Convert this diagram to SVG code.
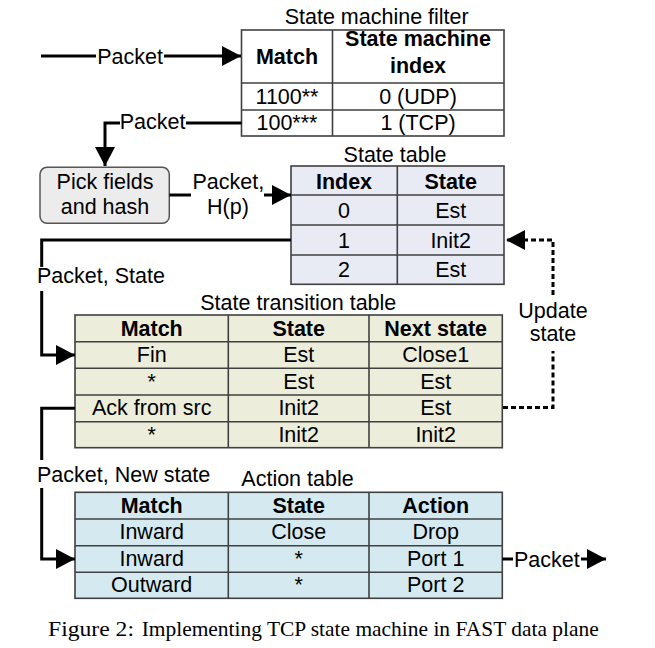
<svg xmlns="http://www.w3.org/2000/svg" width="655" height="648" viewBox="0 0 655 648">
<defs>
<style>
text{font-family:"Liberation Sans",Arial,sans-serif;font-size:21.5px;fill:#000}
.c{text-anchor:middle}
.b{font-weight:bold}
.cell{stroke:#404040;stroke-width:1.6}
.grid{stroke:#404040;stroke-width:1.6;fill:none}
.ln{fill:none;stroke:#000;stroke-width:3}
.dash{fill:none;stroke:#000;stroke-width:3;stroke-dasharray:5 3}
.cap{font-family:"Liberation Serif","Times New Roman",serif;fill:#000}
</style>
<marker id="ah" markerUnits="userSpaceOnUse" markerWidth="22" markerHeight="22" refX="19" refY="10" orient="auto">
<path d="M0,0 L19,10 L0,20 Z" fill="#000" stroke="none"/>
</marker>
</defs>
<rect width="655" height="648" fill="#fff"/>

<g id="filter">
<text class="c" x="376.7" y="24">State machine filter</text>
<rect class="cell" x="241.5" y="30" width="262.5" height="106" fill="#fff"/>
<path class="grid" d="M332.5,30V136M241.5,83H504M241.5,110H504"/>
<text class="c b" x="287" y="63.5">Match</text>
<text class="c b" x="418" y="45.5">State machine</text>
<text class="c b" x="418" y="72.5">index</text>
<text class="c" x="287" y="104">1100**</text>
<text class="c" x="418" y="104">0 (UDP)</text>
<text class="c" x="287" y="129.5">100***</text>
<text class="c" x="418" y="129.5">1 (TCP)</text>
</g>

<g id="pick">
<rect x="40" y="167.3" width="129.3" height="56" rx="7" fill="#ececec" stroke="#555" stroke-width="1.5"/>
<text class="c" x="105" y="188.5">Pick fields</text>
<text class="c" x="105" y="214">and hash</text>
</g>

<g id="statetable">
<text class="c" x="395" y="161.5">State table</text>
<rect class="cell" x="291" y="166" width="213" height="118.3" fill="#e8ebf4"/>
<path class="grid" d="M397.3,166V284.3M291,195H504M291,225H504M291,255H504"/>
<text class="c b" x="344" y="188.5">Index</text>
<text class="c b" x="450.7" y="188.5">State</text>
<text class="c" x="344" y="218">0</text>
<text class="c" x="450.7" y="218">Est</text>
<text class="c" x="344" y="247.5">1</text>
<text class="c" x="450.7" y="247.5">Init2</text>
<text class="c" x="344" y="277">2</text>
<text class="c" x="450.7" y="277">Est</text>
</g>

<g id="transition">
<text class="c" x="298.3" y="310">State transition table</text>
<rect class="cell" x="75" y="315" width="427.3" height="132.7" fill="#ecedda"/>
<path class="grid" d="M228.3,315V447.7M369,315V447.7M75,341.7H502.3M75,368.3H502.3M75,395H502.3M75,421.7H502.3"/>
<text class="c b" x="151.7" y="335.5">Match</text>
<text class="c b" x="298.7" y="335.5">State</text>
<text class="c b" x="435.7" y="335.5">Next state</text>
<text class="c" x="151.7" y="362">Fin</text>
<text class="c" x="298.7" y="362">Est</text>
<text class="c" x="435.7" y="362">Close1</text>
<text class="c" x="151.7" y="388.5">*</text>
<text class="c" x="298.7" y="388.5">Est</text>
<text class="c" x="435.7" y="388.5">Est</text>
<text class="c" x="151.7" y="415.3">Ack from src</text>
<text class="c" x="298.7" y="415.3">Init2</text>
<text class="c" x="435.7" y="415.3">Est</text>
<text class="c" x="151.7" y="441.7">*</text>
<text class="c" x="298.7" y="441.7">Init2</text>
<text class="c" x="435.7" y="441.7">Init2</text>
</g>

<g id="action">
<text class="c" x="297.5" y="486">Action table</text>
<rect class="cell" x="75" y="492.3" width="427.3" height="106" fill="#d4eaf0"/>
<path class="grid" d="M228.3,492.3V598.3M369,492.3V598.3M75,519H502.3M75,545.7H502.3M75,572.3H502.3"/>
<text class="c b" x="151.7" y="512.8">Match</text>
<text class="c b" x="298.7" y="512.8">State</text>
<text class="c b" x="435.7" y="512.8">Action</text>
<text class="c" x="151.7" y="539.3">Inward</text>
<text class="c" x="298.7" y="539.3">Close</text>
<text class="c" x="435.7" y="539.3">Drop</text>
<text class="c" x="151.7" y="566">Inward</text>
<text class="c" x="298.7" y="566">*</text>
<text class="c" x="435.7" y="566">Port 1</text>
<text class="c" x="151.7" y="592.3">Outward</text>
<text class="c" x="298.7" y="592.3">*</text>
<text class="c" x="435.7" y="592.3">Port 2</text>
</g>

<g id="connectors">
<path class="ln" d="M41,56H96"/>
<text class="c" x="130" y="63.5">Packet</text>
<path class="ln" d="M164,56H241" marker-end="url(#ah)"/>

<path class="ln" d="M241.5,123H186"/>
<text class="c" x="152.5" y="128.8">Packet</text>
<path class="ln" d="M120,123H105V166" marker-end="url(#ah)"/>

<path class="ln" d="M169.3,195H191"/>
<text x="192.5" y="189">Packet,</text>
<text class="c" x="228" y="214">H(p)</text>
<path class="ln" d="M264,195H291" marker-end="url(#ah)"/>

<path class="ln" d="M291,240H41.7V267"/>
<text x="37" y="282.7">Packet, State</text>
<path class="ln" d="M41.7,291V355H75" marker-end="url(#ah)"/>

<path class="ln" d="M75,408.3H41.7V460"/>
<text x="37" y="481.7">Packet, New state</text>
<path class="ln" d="M41.7,488V559H75" marker-end="url(#ah)"/>

<path class="ln" d="M502.3,559H513"/>
<text x="514" y="566.5">Packet</text>
<path class="ln" d="M581,559H606" marker-end="url(#ah)"/>

<path class="dash" d="M503,407.5H553V351"/>
<text class="c" x="553" y="318.3">Update</text>
<text class="c" x="553" y="341">state</text>
<path class="dash" d="M553,295V240H506" marker-end="url(#ah)"/>
</g>

<g id="caption">
<text class="cap" x="48" y="635.7" font-size="22" textLength="86" lengthAdjust="spacingAndGlyphs">Figure 2:</text>
<text class="cap" x="141.7" y="635.7" font-size="20" textLength="457" lengthAdjust="spacingAndGlyphs">Implementing TCP state machine in FAST data plane</text>
</g>
</svg>
